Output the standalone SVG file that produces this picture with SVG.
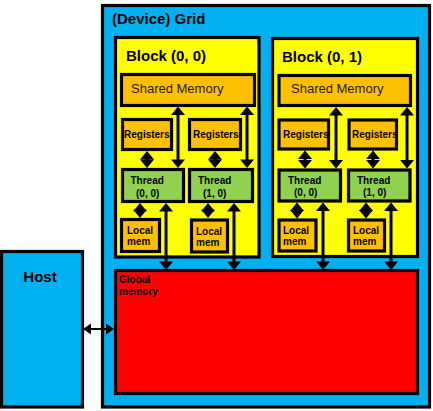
<svg xmlns="http://www.w3.org/2000/svg" width="433" height="411" viewBox="0 0 433 411">
<style>
  .box { stroke: #000; stroke-width: 3.2; }
  .grid { fill: #00b0f0; }
  .block { fill: #ffff00; }
  .mem { fill: #ffc000; }
  .thr { fill: #92d050; }
  .glob { fill: #ff0000; }
  .host { fill: #00b0f0; }
  text { font-family: "Liberation Sans", Arial, sans-serif; fill: #000; }
  .t15 { font-size: 15px; font-weight: bold; }
  .t13 { font-size: 13px; fill: #1a1a1a; }
  .t10 { font-size: 10px; font-weight: bold; }
  .shaft { stroke: #000; stroke-width: 3; fill: none; }
  .hshaft { stroke: #000; stroke-width: 2; fill: none; }
  .head { fill: #000; stroke: none; }
</style>
<defs>
  <path id="up" d="M0,0 L-7,8.5 L7,8.5 Z"/>
  <path id="down" d="M0,0 L-7,-8.5 L7,-8.5 Z"/>
</defs>
<rect width="433" height="411" fill="#ffffff"/>

<g id="grid">
  <rect class="box grid" x="102.5" y="5.5" width="327" height="401.5"/>
  <text class="t15" x="112" y="24">(Device) Grid</text>
</g>

<g id="host">
  <rect class="box host" x="1.5" y="251.5" width="81" height="155.5"/>
  <text class="t15" x="40" y="282" text-anchor="middle">Host</text>
</g>

<g id="block00">
  <rect class="box block" x="115.5" y="37.5" width="143.5" height="219.5"/>
  <text class="t15" x="126" y="61">Block (0, 0)</text>
</g>
<g id="shared00">
  <rect class="box mem" x="121.5" y="74.5" width="133" height="31"/>
  <text class="t13" x="131" y="93">Shared Memory</text>
</g>
<g id="reg00a">
  <rect class="box mem" x="122.5" y="119.5" width="49" height="30"/>
  <text class="t10" x="124" y="137.5">Registers</text>
</g>
<g id="reg00b">
  <rect class="box mem" x="189.5" y="119.5" width="51" height="30"/>
  <text class="t10" x="193" y="137.5">Registers</text>
</g>
<g id="thread00a">
  <rect class="box thr" x="122.5" y="169.5" width="61" height="32"/>
  <text class="t10" x="130.5" y="183.5">Thread</text>
  <text class="t10" x="136" y="197">(0, 0)</text>
</g>
<g id="thread00b">
  <rect class="box thr" x="189.5" y="169.5" width="63" height="32"/>
  <text class="t10" x="198" y="183.5">Thread</text>
  <text class="t10" x="203" y="197">(1, 0)</text>
</g>
<g id="local00a">
  <rect class="box mem" x="121.5" y="219.5" width="38" height="32"/>
  <text class="t10" x="127" y="234">Local</text>
  <text class="t10" x="127" y="245">mem</text>
</g>
<g id="local00b">
  <rect class="box mem" x="191.5" y="220" width="36" height="32"/>
  <text class="t10" x="196" y="235">Local</text>
  <text class="t10" x="196" y="246">mem</text>
</g>

<g id="block01">
  <rect class="box block" x="272.5" y="38.5" width="145" height="218"/>
  <text class="t15" x="282" y="62">Block (0, 1)</text>
</g>
<g id="shared01">
  <rect class="box mem" x="279" y="75.5" width="131.5" height="30"/>
  <text class="t13" x="291" y="93">Shared Memory</text>
</g>
<g id="reg01a">
  <rect class="box mem" x="279" y="120" width="49.5" height="29"/>
  <text class="t10" x="283" y="138">Registers</text>
</g>
<g id="reg01b">
  <rect class="box mem" x="349" y="120" width="47.5" height="29"/>
  <text class="t10" x="352" y="138">Registers</text>
</g>
<g id="thread01a">
  <rect class="box thr" x="279" y="170" width="61.5" height="31"/>
  <text class="t10" x="288" y="184">Thread</text>
  <text class="t10" x="294" y="196">(0, 0)</text>
</g>
<g id="thread01b">
  <rect class="box thr" x="348.5" y="170" width="61.5" height="31"/>
  <text class="t10" x="357" y="184">Thread</text>
  <text class="t10" x="363" y="196">(1, 0)</text>
</g>
<g id="local01a">
  <rect class="box mem" x="279" y="220" width="37" height="31"/>
  <text class="t10" x="283" y="234">Local</text>
  <text class="t10" x="283" y="245">mem</text>
</g>
<g id="local01b">
  <rect class="box mem" x="348.5" y="220" width="36" height="31"/>
  <text class="t10" x="353" y="234">Local</text>
  <text class="t10" x="353" y="245">mem</text>
</g>

<g id="global">
  <rect class="box glob" x="115.5" y="270.5" width="302" height="123"/>
  <text class="t10" x="119" y="283">Global</text>
  <text class="t10" x="119" y="295">memory</text>
</g>

<g id="connectors">
  <g class="shaft">
    <line x1="178" y1="110" x2="178" y2="163"/>
    <line x1="247" y1="110" x2="247" y2="163"/>
    <line x1="147" y1="155" x2="147" y2="164"/>
    <line x1="215" y1="155" x2="215" y2="164"/>
    <line x1="140" y1="207" x2="140" y2="214"/>
    <line x1="208" y1="207" x2="208" y2="214"/>
    <line x1="166" y1="207" x2="166" y2="265"/>
    <line x1="234" y1="207" x2="234" y2="265"/>
    <line x1="336" y1="111" x2="336" y2="164"/>
    <line x1="407" y1="111" x2="407" y2="164"/>
    <line x1="305" y1="154" x2="305" y2="164"/>
    <line x1="373" y1="154" x2="373" y2="164"/>
    <line x1="297" y1="206" x2="297" y2="214"/>
    <line x1="366" y1="206" x2="366" y2="214"/>
    <line x1="323" y1="206" x2="323" y2="265"/>
    <line x1="391" y1="206" x2="391" y2="265"/>
  </g>
  <g class="head">
    <use href="#up" x="178" y="106.5"/><use href="#down" x="178" y="168"/>
    <use href="#up" x="247" y="106.5"/><use href="#down" x="247" y="168"/>
    <use href="#up" x="147" y="151"/><use href="#down" x="147" y="168"/>
    <use href="#up" x="215" y="151"/><use href="#down" x="215" y="168"/>
    <use href="#up" x="140" y="203"/><use href="#down" x="140" y="218"/>
    <use href="#up" x="208" y="203"/><use href="#down" x="208" y="218"/>
    <use href="#up" x="166" y="203"/><use href="#down" x="166" y="270"/>
    <use href="#up" x="234" y="203"/><use href="#down" x="234" y="270"/>
    <use href="#up" x="336" y="107"/><use href="#down" x="336" y="168.5"/>
    <use href="#up" x="407" y="107"/><use href="#down" x="407" y="168.5"/>
    <use href="#up" x="305" y="150.5"/><use href="#down" x="305" y="168.5"/>
    <use href="#up" x="373" y="150.5"/><use href="#down" x="373" y="168.5"/>
    <use href="#up" x="297" y="202.5"/><use href="#down" x="297" y="218.5"/>
    <use href="#up" x="366" y="202.5"/><use href="#down" x="366" y="218.5"/>
    <use href="#up" x="323" y="202.5"/><use href="#down" x="323" y="270"/>
    <use href="#up" x="391" y="202.5"/><use href="#down" x="391" y="270"/>
  </g>
  <line class="hshaft" x1="88" y1="329" x2="109" y2="329"/>
  <path class="head" d="M83,329 L91,323.5 L91,334.5 Z"/>
  <path class="head" d="M114,329 L106,323.5 L106,334.5 Z"/>
</g>
</svg>
